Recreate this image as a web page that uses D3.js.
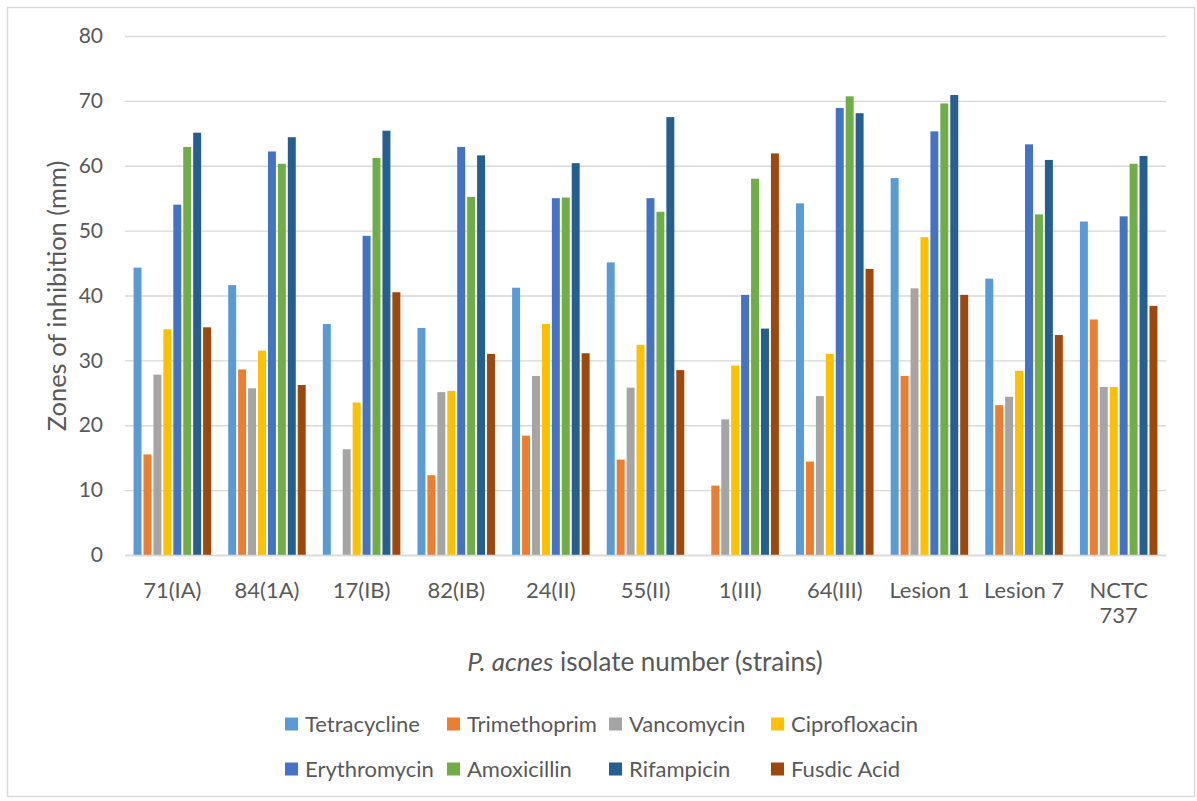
<html>
  <head>
    <meta charset="utf-8">
    <title>Zones of inhibition</title>
    <style type="text/css">
      body{ margin:0; background:#fff; }
      text{ font-family: Lato, "Open Sans", sans-serif; fill:#595959; }
    </style>
    <script src="https://d3js.org/d3.v7.min.js"></script>
  </head>
  <body>
    <script>
    // strains on the x axis
    var strains = ["71(IA)", "84(1A)", "17(IB)", "82(IB)", "24(II)", "55(II)", "1(III)", "64(III)", "Lesion 1", "Lesion 7", "NCTC 737"];

    var antibiotics = ["Tetracycline", "Trimethoprim", "Vancomycin", "Ciprofloxacin", "Erythromycin", "Amoxicillin", "Rifampicin", "Fusdic Acid"];

    // zone diameters (mm)
    var tetracycline  = [44.3, 41.6, 35.6, 35.0, 41.2, 45.1, 0,    54.2, 58.1, 42.6, 51.4];
    var trimethoprim  = [15.5, 28.6, 0,    12.3, 18.4, 14.7, 10.7, 14.4, 27.6, 23.1, 36.3];
    var vancomycin    = [27.8, 25.7, 16.3, 25.1, 27.6, 25.8, 20.9, 24.5, 41.1, 24.4, 25.9];
    var ciprofloxacin = [34.8, 31.5, 23.5, 25.3, 35.6, 32.4, 29.2, 31.0, 49.0, 28.4, 25.9];
    var erythromycin  = [54.0, 62.2, 49.2, 62.9, 55.0, 55.0, 40.1, 68.9, 65.3, 63.3, 52.2];
    var amoxicillin   = [62.9, 60.3, 61.2, 55.2, 55.1, 52.9, 58.0, 70.7, 69.6, 52.5, 60.3];
    var rifampicin    = [65.1, 64.4, 65.4, 61.6, 60.4, 67.5, 34.9, 68.1, 70.9, 60.9, 61.5];
    var fusidicAcid   = [35.1, 26.2, 40.5, 31.0, 31.1, 28.5, 61.9, 44.1, 40.1, 33.9, 38.4];

    var yTicks = [0, 10, 20, 30, 40, 50, 60, 70, 80];

    var seriesValues = [tetracycline, trimethoprim, vancomycin, ciprofloxacin, erythromycin, amoxicillin, rifampicin, fusidicAcid];

    var color = d3.scaleOrdinal()
                  .domain(antibiotics)
                  .range(["#5B9BD5", "#ED7D31", "#A5A5A5", "#FFC000", "#4472C4", "#70AD47", "#255E91", "#9E480E"]);

    var width = 1197, height = 801;
    var plotLeft = 125, plotRight = 1166, plotTop = 36, plotBottom = 555;

    var svg = d3.select("body").append("svg")
                .attr("width", width)
                .attr("height", height);

    // chart border
    svg.append("rect")
       .attr("x", 7.5).attr("y", 7.5)
       .attr("width", 1187).attr("height", 789)
       .attr("fill", "#fff")
       .attr("stroke", "#d9d9d9")
       .attr("stroke-width", 1.5);

    var x0 = d3.scaleBand()
               .domain(strains)
               .range([plotLeft, plotRight])
               .paddingInner(0.16)
               .paddingOuter(0.08);

    var x1 = d3.scaleBand()
               .domain(antibiotics)
               .range([0, x0.bandwidth()])
               .paddingInner(0.2)
               .paddingOuter(0.1);

    var y = d3.scaleLinear()
              .domain([0, 80])
              .range([plotBottom, plotTop]);

    // y axis + gridlines
    var yAxis = svg.append("g")
                   .attr("transform", "translate(" + plotLeft + ",0)")
                   .call(d3.axisLeft(y)
                           .tickValues(yTicks)
                           .tickSizeInner(-(plotRight - plotLeft))
                           .tickSizeOuter(0)
                           .tickPadding(22));
    yAxis.select(".domain").remove();
    yAxis.selectAll("line").attr("stroke", "#d9d9d9").attr("stroke-width", 1.3);
    yAxis.selectAll("text")
         .style("font-size", "21px")
         .attr("fill", "#595959");

    // bars
    var data = strains.map(function(s, i){
      return { strain: s, values: antibiotics.map(function(a, j){ return { name: a, value: seriesValues[j][i] }; }) };
    });

    var groups = svg.append("g")
                    .selectAll("g")
                    .data(data)
                    .enter()
                    .append("g")
                    .attr("transform", d => "translate(" + x0(d.strain) + ",0)");

    groups.selectAll("rect")
          .data(d => d.values.filter(v => v.value > 0))
          .enter()
          .append("rect")
          .attr("x", d => x1(d.name))
          .attr("y", d => y(d.value))
          .attr("width", x1.bandwidth())
          .attr("height", d => y(0) - y(d.value))
          .attr("fill", d => color(d.name));

    // x axis
    var xAxis = svg.append("g")
                   .attr("transform", "translate(0," + plotBottom + ")")
                   .call(d3.axisBottom(x0).tickSize(0).tickSizeOuter(0));
    xAxis.select(".domain").attr("stroke", "#d9d9d9").attr("stroke-width", 1.3);
    xAxis.selectAll("text")
         .style("font-size", "22px")
         .attr("fill", "#595959")
         .attr("y", 43)
         .attr("dy", 0)
         .each(function(d){
           var words = d.split(" ");
           var t = d3.select(this);
           if (d == "NCTC 737") {
             t.text(null);
             t.append("tspan").attr("x", 0).text(words[0]);
             t.append("tspan").attr("x", 0).attr("dy", 25).text(words[1]);
           }
         });

    // axis titles
    svg.append("text")
       .attr("transform", "translate(57,296) rotate(-90)")
       .attr("text-anchor", "middle")
       .attr("dy", "0.35em")
       .style("font-size", "25.5px")
       .text("Zones of inhibition (mm)");

    var xt = svg.append("text")
                .attr("x", 645)
                .attr("y", 671)
                .attr("text-anchor", "middle")
                .style("font-size", "26px");
    xt.append("tspan").style("font-style", "italic").text("P. acnes");
    xt.append("tspan").text(" isolate number (strains)");

    // legend, 4 per row
    var legend = svg.append("g")
                    .selectAll("g")
                    .data(antibiotics)
                    .enter()
                    .append("g")
                    .attr("transform", (d, i) => "translate(" + (285 + (i % 4) * 162) + "," + (724 + Math.floor(i / 4) * 45) + ")");
    legend.append("rect")
          .attr("y", -6.5)
          .attr("width", 13)
          .attr("height", 13)
          .attr("fill", d => color(d));
    legend.append("text")
          .attr("x", 20)
          .attr("dy", "0.35em")
          .style("font-size", "22px")
          .text(d => d);
    </script>
  </body>
</html>
